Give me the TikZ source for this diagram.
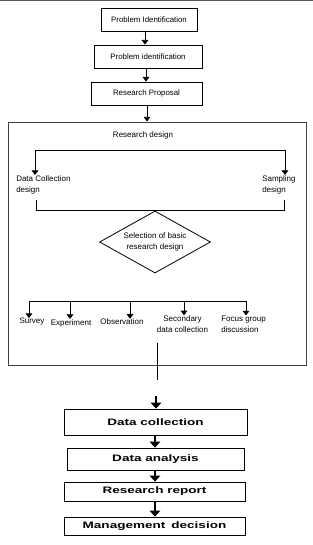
\documentclass[tikz,border=0pt]{standalone}
\usepackage{fontspec}
\setmainfont{Liberation Sans}
\usetikzlibrary{arrows.meta,positioning,shapes.geometric}
\newcommand{\widetxt}[1]{\scalebox{1.45}[1]{#1}}
\tikzset{
  topblk/.style={draw,rectangle,line width=0.6pt,minimum height=17.25pt,inner sep=0pt,font=\fontsize{5.9}{7}\selectfont},
  lowblk/.style={draw,rectangle,line width=0.6pt,inner sep=0pt,font=\bfseries\fontsize{7}{8}\selectfont},
  frmblk/.style={draw=black!75,rectangle,line width=0.7pt,inner sep=0pt},
  dsnblk/.style={draw,diamond,aspect=1.8,line width=0.6pt,inner sep=0pt,minimum width=83.25pt,minimum height=46.5pt,align=center,font=\fontsize{6}{8.25}\selectfont},
  lbl/.style={font=\fontsize{6}{8.25}\selectfont,inner sep=0pt},
  arr/.style={-{Triangle[width=5pt,length=3.5pt]},line width=0.6pt},
  bigarr/.style={-{Triangle[width=8pt,length=4.5pt]},line width=0.9pt},
  lnk/.style={line width=0.6pt}
}

\begin{document}
\begin{tikzpicture}[x=0.75pt,y=-0.75pt]
  \useasboundingbox (0,0) rectangle (313,545);
  \draw[black!65,line width=0.9pt] (0,0.6) -- (313,0.6);

  % Problem and proposal boxes
  \node[topblk, minimum width=72pt] (pid1) at (149,19.5) {Problem Identification};
  \node[topblk, minimum width=81pt] (pid2) at (148,56.5) {Problem identification};
  \node[topblk, minimum width=83.25pt] (prop) at (146.5,93.5) {Research Proposal};
  \draw[arr] (pid1.south -| 145,0) -- (pid2.north -| 145,0);
  \draw[arr] (pid2.south -| 146,0) -- (prop.north -| 146,0);

  % Research design frame
  \node[frmblk, minimum width=223.5pt, minimum height=182.25pt] (frame) at (157,243.5) {};
  \draw[arr] (prop.south -| 147,0) -- (frame.north -| 147,0);
  \node[lbl] (rd) at (143,135) {Research design};

  % Collection and sampling design
  \node[lbl, anchor=west, align=left] (dcd) at (16,184.5) {Data Collection\\design};
  \node[lbl, anchor=west, align=left] (smp) at (262,184.5) {Sampling\\design};
  \coordinate (dsL) at (35,150);
  \coordinate (dsR) at (285,150);
  \draw[lnk] (dsL) -- (dsR);
  \draw[arr] (dsL) -- (dsL |- dcd.north);
  \draw[arr] (dsR) -- (dsR |- smp.north);

  % Selection of basic design
  \node[dsnblk] (sel) at (155,242) {Selection of basic\\research design};
  \draw[lnk] (36,200) |- (sel.north) -| (284,200);

  % Methods
  \node[lbl] (sv) at (32,322) {Survey};
  \node[lbl] (ex) at (71,323) {Experiment};
  \node[lbl] (ob) at (122,322) {Observation};
  \node[lbl, align=center] (sc) at (182.5,324) {Secondary\\data collection};
  \node[lbl, anchor=west, align=left] (fg) at (221,324) {Focus group\\discussion};
  \foreach \n/\x in {sv/29,ex/70,ob/130,sc/184,fg/246}
    \coordinate (t\n) at (\x,301);
  \draw[lnk] (tsv) -- (tfg);
  \foreach \n in {sv,ex,ob,sc,fg}
    \draw[arr] (t\n) -- (t\n |- \n.north);

  % Link out of the frame
  \coordinate (lnA) at (157,343);
  \coordinate (lnB) at (157,380);
  \draw[lnk] (lnA) -- (lnB);

  % Data and decision boxes
  \node[lowblk, minimum width=137.25pt, minimum height=19.5pt] (dc) at (155.5,422) {\widetxt{Data collection}};
  \node[lowblk, minimum width=132.75pt, minimum height=16.5pt] (da) at (155.5,459) {\widetxt{Data analysis}};
  \node[lowblk, minimum width=135.75pt, minimum height=14.25pt] (rr) at (154.5,491.5) {\widetxt{Research report}};
  \node[lowblk, minimum width=135.75pt, minimum height=13.5pt] (md) at (154.5,526) {\widetxt{Management\, decision}};
  \coordinate (lnC) at (156,396);
  \draw[bigarr] (lnC) -- (lnC |- dc.north);
  \draw[bigarr] (dc.south -| 155,0) -- (da.north -| 155,0);
  \draw[bigarr] (da.south -| 155,0) -- (rr.north -| 155,0);
  \draw[bigarr] (rr.south -| 155,0) -- (md.north -| 155,0);
\end{tikzpicture}
\end{document}
